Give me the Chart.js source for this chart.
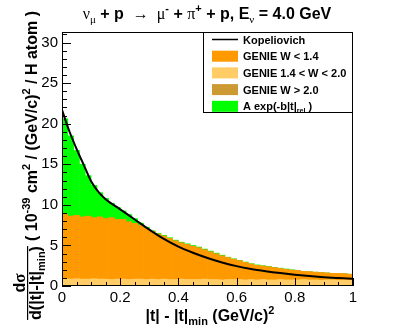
<!DOCTYPE html>
<html>
<head>
<meta charset="utf-8">
<script src="https://cdn.jsdelivr.net/npm/chart.js@4.4.1/dist/chart.umd.min.js"></script>
<style>
html, body { margin: 0; padding: 0; background: #fff; }
#wrap { width: 415px; height: 335px; }
</style>
</head>
<body>
<div id="wrap"><canvas id="c" width="415" height="335"></canvas></div>
<script>
// bin centres of |t| - |t|min, (GeV/c)^2, bin width 0.02
const tBins = [
    0.01, 0.03, 0.05, 0.07, 0.09, 0.11, 0.13, 0.15, 0.17, 0.19,
    0.21, 0.23, 0.25, 0.27, 0.29, 0.31, 0.33, 0.35, 0.37, 0.39,
    0.41, 0.43, 0.45, 0.47, 0.49, 0.51, 0.53, 0.55, 0.57, 0.59,
    0.61, 0.63, 0.65, 0.67, 0.69, 0.71, 0.73, 0.75, 0.77, 0.79,
    0.81, 0.83, 0.85, 0.87, 0.89, 0.91, 0.93, 0.95, 0.97, 0.99,
];

// GENIE 1.4 < W < 2.0
const midW = [
    0.9, 0.85, 0.9, 0.85, 0.85, 0.9, 0.85, 0.85, 0.8, 0.85,
    0.85, 0.8, 0.85, 0.85, 0.8, 0.85, 0.8, 0.85, 0.8, 0.8,
    0.85, 0.8, 0.8, 0.8, 0.85, 0.8, 0.8, 0.75, 0.8, 0.8,
    0.8, 0.75, 0.8, 0.75, 0.8, 0.75, 0.75, 0.8, 0.75, 0.75,
    0.75, 0.8, 0.75, 0.75, 0.7, 0.75, 0.75, 0.7, 0.75, 0.7,
];

// GENIE W < 1.4
const lowW = [
    7.9, 7.75, 7.8, 7.65, 7.75, 7.5, 7.65, 7.45, 7.6, 7.35,
    7.35, 7.1, 6.85, 6.65, 6.3, 5.85, 5.6, 5.3, 5.05, 4.75,
    4.45, 4.3, 4.1, 3.9, 3.6, 3.4, 3.15, 2.95, 2.7, 2.5,
    2.3, 2.15, 1.9, 1.8, 1.65, 1.6, 1.5, 1.35, 1.3, 1.2,
    1.15, 1.0, 1.0, 0.95, 0.95, 0.85, 0.8, 0.85, 0.75, 0.75,
];

// GENIE W > 2.0
const highW = [
    0, 0, 0, 0, 0, 0, 0, 0, 0, 0,
    0, 0, 0, 0, 0, 0, 0, 0, 0, 0,
    0, 0, 0, 0, 0, 0, 0, 0, 0, 0,
    0, 0, 0, 0, 0, 0, 0, 0, 0, 0,
    0, 0, 0, 0, 0, 0, 0, 0, 0, 0,
];

// A exp(-b|t|rel)
const expFit = [
    11.8, 9.9, 8.0, 6.5, 5.0, 4.0, 3.0, 2.5, 1.8, 1.5,
    1.05, 0.9, 0.6, 0.25, 0.15, 0.1, 0.1, 0.1, 0.1, 0.1,
    0.1, 0.1, 0.1, 0.1, 0.1, 0.1, 0.1, 0.1, 0.05, 0.05,
    0.05, 0.05, 0.05, 0.05, 0.05, 0.05, 0.05, 0.05, 0.05, 0.05,
    0, 0, 0, 0, 0, 0, 0, 0, 0, 0,
];

// Kopeliovich curve
const kopT = [0, 0.025, 0.05, 0.075, 0.1, 0.125, 0.15, 0.2, 0.25, 0.3, 0.35, 0.4,
    0.45, 0.5, 0.55, 0.6, 0.65, 0.7, 0.75, 0.8, 0.85, 0.9, 0.95, 1.0];
const kopValues = [21.7, 19.1, 16.9, 14.9, 12.9, 11.6, 10.7, 9.45, 8.2, 6.95, 5.8, 4.85,
    4.1, 3.45, 2.9, 2.45, 2.1, 1.83, 1.6, 1.4, 1.23, 1.09, 0.98, 0.88];

const xTicks = [0, 0.2, 0.4, 0.6, 0.8, 1];
const yTicks = [0, 5, 10, 15, 20, 25, 30];

const SANS = "'Liberation Sans', Arial, sans-serif";
const SERIF = "'Liberation Serif', 'Times New Roman', serif";

const bins = (values) => values.map((v, i) => ({ x: tBins[i], y: v }));

function drawRich(ctx, segs, x, y, align) {
    let w = 0;
    segs.forEach((s) => { ctx.font = s[1]; w += ctx.measureText(s[0]).width; });
    let cx = align === 'center' ? x - w / 2 : x;
    ctx.textAlign = 'left';
    ctx.textBaseline = 'alphabetic';
    segs.forEach((s) => {
        ctx.font = s[1];
        ctx.fillText(s[0], cx, y + (s[2] || 0));
        cx += ctx.measureText(s[0]).width;
    });
    return w;
}

const rootFrame = {
    id: 'rootFrame',
    afterDatasetsDraw(chart) {
        const { ctx, chartArea: a, scales: { x, y } } = chart;
        ctx.save();
        ctx.strokeStyle = '#000';
        ctx.lineWidth = 1;
        ctx.beginPath();
        for (let v = 0; v <= 31; v++) {
            const py = Math.round(y.getPixelForValue(v)) + 0.5;
            const len = v % 5 === 0 ? 9 : 5;
            ctx.moveTo(a.left, py);
            ctx.lineTo(a.left + len, py);
        }
        for (let k = 0; k <= 20; k++) {
            const px = Math.round(x.getPixelForValue(k * 0.05)) + 0.5;
            const len = k % 4 === 0 ? 8 : 4;
            ctx.moveTo(px, a.bottom);
            ctx.lineTo(px, a.bottom - len);
        }
        ctx.stroke();
        ctx.strokeRect(a.left + 0.5, a.top + 0.5, a.right - a.left - 1, a.bottom - a.top - 1);
        ctx.restore();
    },
    afterDraw(chart) {
        const { ctx, chartArea: a } = chart;
        ctx.save();
        ctx.fillStyle = '#000';

        const B16 = `bold 16px ${SANS}`;
        const B11s = `bold 11px ${SANS}`;
        const G16 = `16px ${SERIF}`;
        const G11 = `11px ${SERIF}`;

        // title
        drawRich(ctx, [
            ['\u03bd', G16], ['\u03bc', G11, 4], [' + p  ', B16], ['\u2192', G16],
            ['  \u03bc', G16], ['-', B11s, -7], [' + ', B16], ['\u03c0', G16], ['+', B11s, -7],
            [' + p, E', B16], ['\u03bd', G11, 4], [' = 4.0 GeV', B16],
        ], 207, 19, 'center');

        // x axis title
        drawRich(ctx, [
            ['|t| - |t|', B16], ['min', B11s, 4], [' (GeV/c)', B16], ['2', B11s, -7],
        ], 210, 321, 'center');

        // y axis title, rotated
        ctx.save();
        ctx.translate(0, 283);
        ctx.rotate(-Math.PI / 2);
        const denW = drawRich(ctx, [
            ['d(|t|-|t|', B16], ['min', B11s, 4], [')', B16],
        ], 0, 40.5, 'center');
        drawRich(ctx, [['d', B16], ['\u03c3', `bold 17px ${SERIF}`]], 0, 24.5, 'center');
        ctx.fillRect(-denW / 2, 27, denW, 1.2);
        ctx.restore();

        ctx.save();
        ctx.translate(0, 241);
        ctx.rotate(-Math.PI / 2);
        drawRich(ctx, [
            ['( 10', B16], ['-39', B11s, -7], [' cm', B16], ['2', B11s, -7],
            [' / (GeV/c)', B16], ['2', B11s, -7], [' / H atom )', B16],
        ], 0, 36.5, 'left');
        ctx.restore();

        // legend
        const lx = 203, ly = a.top, lw = a.right - 203, lh = 80;
        ctx.fillStyle = '#fff';
        ctx.fillRect(lx, ly, lw, lh);
        ctx.strokeStyle = '#000';
        ctx.lineWidth = 1;
        ctx.strokeRect(lx + 0.5, ly + 0.5, lw - 1, lh);
        const rows = [
            { label: [['Kopeliovich', B11s]], line: '#000' },
            { label: [['GENIE W < 1.4', B11s]], fill: '#ff9900' },
            { label: [['GENIE 1.4 < W < 2.0', B11s]], fill: '#ffcc66' },
            { label: [['GENIE W > 2.0', B11s]], fill: '#cc9933' },
            { label: [['A exp(-b|t|', B11s], ['rel', `bold 7px ${SANS}`, 3], [' )', B11s]], fill: '#00ff00' },
        ];
        rows.forEach((r, i) => {
            const cy = 39.5 + i * 16.7;
            if (r.line) {
                ctx.fillStyle = r.line;
                ctx.fillRect(212, cy - 0.75, 26, 1.5);
            } else {
                ctx.fillStyle = r.fill;
                ctx.fillRect(212, cy - 5.5, 26, 11);
            }
            ctx.fillStyle = '#000';
            drawRich(ctx, r.label, 243, cy + 4, 'left');
        });
        ctx.restore();
    },
};

const canvas = document.getElementById('c');

new Chart(canvas, {
    type: 'bar',
    data: {
        datasets: [
            {
                type: 'line',
                label: 'Kopeliovich',
                data: kopT.map((t, i) => ({ x: t, y: kopValues[i] })),
                borderColor: '#000',
                borderWidth: 2,
                pointRadius: 0,
                cubicInterpolationMode: 'monotone',
                order: 0,
            },
            { label: 'GENIE 1.4 < W < 2.0', data: bins(midW), backgroundColor: '#ffcc66', order: 1 },
            { label: 'GENIE W < 1.4', data: bins(lowW), backgroundColor: '#ff9900', order: 1 },
            { label: 'GENIE W > 2.0', data: bins(highW), backgroundColor: '#cc9933', order: 1 },
            { label: 'A exp(-b|t|rel)', data: bins(expFit), backgroundColor: '#00ff00', order: 1 },
        ],
    },
    options: {
        responsive: false,
        animation: false,
        layout: { padding: { top: 32, right: 62, left: 0, bottom: 0 } },
        datasets: {
            bar: { barPercentage: 1, categoryPercentage: 1, borderWidth: 0 },
        },
        plugins: {
            legend: { display: false },
            tooltip: { enabled: false },
        },
        scales: {
            x: {
                type: 'linear',
                min: 0,
                max: 1,
                stacked: true,
                offset: false,
                grid: { display: false, drawTicks: false, offset: false },
                border: { display: false },
                afterBuildTicks: (s) => { s.ticks = xTicks.map((v) => ({ value: v })); },
                ticks: {
                    color: '#000',
                    font: { family: SANS, size: 15 },
                    padding: 3,
                    maxRotation: 0,
                    autoSkip: false,
                    callback: (v) => String(+v.toFixed(1)),
                },
                afterFit: (s) => { s.height = 49; },
            },
            y: {
                min: 0,
                max: 31.3,
                stacked: true,
                grid: { display: false, drawTicks: false },
                border: { display: false },
                afterBuildTicks: (s) => { s.ticks = yTicks.map((v) => ({ value: v })); },
                ticks: {
                    color: '#000',
                    font: { family: SANS, size: 15 },
                    padding: 4,
                },
                afterFit: (s) => { s.width = 62; },
            },
        },
    },
    plugins: [rootFrame],
});
</script>
</body>
</html>
